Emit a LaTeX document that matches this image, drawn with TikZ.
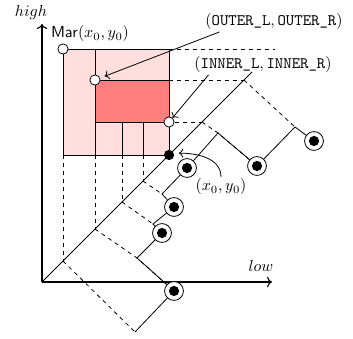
\documentclass[tikz,border=0pt]{standalone}
\usetikzlibrary{arrows.meta}
\definecolor{outerpink}{HTML}{FFDEDE}
\definecolor{innerred}{HTML}{FF7F7F}

\begin{document}
\begin{tikzpicture}[
    x=0.625pt, y=-0.625pt,
    axisline/.style={->, line width=0.7pt},
    link/.style={line width=0.5pt},
    guide/.style={dash pattern=on 2.5pt off 2.5pt, line width=0.5pt},
    lead/.style={->, line width=0.5pt},
    lab/.style={inner sep=1pt},
    hole/.style={circle, draw, fill=white, line width=0.5pt, inner sep=0pt, minimum size=6.4pt},
    query/.style={circle, fill=black, inner sep=0pt, minimum size=6.4pt},
    leafdot/.style={circle, draw, fill=white, line width=0.5pt, inner sep=0pt, minimum size=11.8pt,
        path picture={\fill[black] (path picture bounding box.center) circle (3.2pt);}},
]
\useasboundingbox (0,0) rectangle (353,339);

% ============================================================ the region Mar
\filldraw[fill=outerpink, link] (63,49) rectangle (169,155);
\filldraw[fill=innerred, link] (95,80) rectangle (169,122);
\draw[link] (95,49) -- (95,80);
\draw[link] (95,122) -- (95,155);
\foreach \x in {122,143}{
    \draw[link] (\x,122) -- (\x,155);
}

% ============================================================ axes and diagonal
\coordinate (o) at (42,282);
\coordinate (ytip) at (42,24);
\coordinate (xtip) at (272,282);
\coordinate (diagend) at (252,72);
\draw[axisline] (o) -- (ytip);
\draw[axisline] (o) -- (xtip);
\draw[link] (o) -- (diagend);
\node[lab] (high) at (31,13) {$high$};
\node[lab] (low) at (261,266) {$low$};

% points on the diagonal
\foreach \n/\x in {1/63, 2/95, 3/122, 4/143}{
    \coordinate (b\n) at (\x,155);
    \coordinate (k\n) at (\x,{324-\x});
    \draw[guide] (b\n) -- (k\n);
}
\coordinate (k5) at (202,122);
\coordinate (k6) at (244,80);
\coordinate (c80) at (169,80);
\coordinate (c49) at (169,49);
\coordinate (e49) at (275,49);
\draw[guide] (c80) -- (k6);
\draw[guide] (c49) -- (e49);

% ============================================================ corners
\node[hole] (hmar) at (63,49) {};
\node[hole] (hout) at (95,80) {};
\node[hole] (hin) at (169,122) {};
\node[query] (q) at (169,155) {};
\draw[guide] (hin) -- (k5);

% ============================================================ the tree
\foreach \n/\x/\y in {1/314/141, 2/257/166, 3/187/168, 4/174/207, 5/162/233, 6/174/291}{
    \node[leafdot] (l\n) at (\x,\y) {};
}
\foreach \n/\x/\y in {1/135/332, 2/137/258, 3/153/224, 4/162/194, 5/218/133, 6/295/127}{
    \coordinate (j\n) at (\x,\y);
}

% projections from the diagonal
\draw[guide] (k1) -- (j1);
\draw[guide] (k2) -- (j2) -- (l6);
\draw[guide] (k3) -- (j3);
\draw[guide] (k4) -- (j4);
\draw[guide] (k5) -- (j5) -- (l2);
\draw[guide] (k6) -- (j6);

% edges
\draw[link] (l1) -- (j6) -- (l2);
\draw[link] (l2) -- (j5) -- (l3) -- (j4) -- (l4) -- (j3) -- (l5) -- (j2) -- (l6) -- (j1);

% ============================================================ labels
\node[lab] (marlab) at (90,34) {$\mathsf{Mar}(x_0,y_0)$};
\node[lab] (outerlab) at (274,22) {$(\texttt{OUTER\_L}, \texttt{OUTER\_R})$};
\node[lab] (innerlab) at (263,65) {$(\texttt{INNER\_L}, \texttt{INNER\_R})$};
\node[lab] (xylab) at (221,187) {$(x_0,y_0)$};

\draw[lead, shorten >=3pt] ([xshift=10pt]outerlab.south west) -- (hout);
\draw[lead] ([xshift=10pt]innerlab.south west) -- (hin);
\draw[lead, shorten >=3pt] (xylab.north) .. controls +(0,-20) and +(21,0) .. (q.20);

\end{tikzpicture}
\end{document}
